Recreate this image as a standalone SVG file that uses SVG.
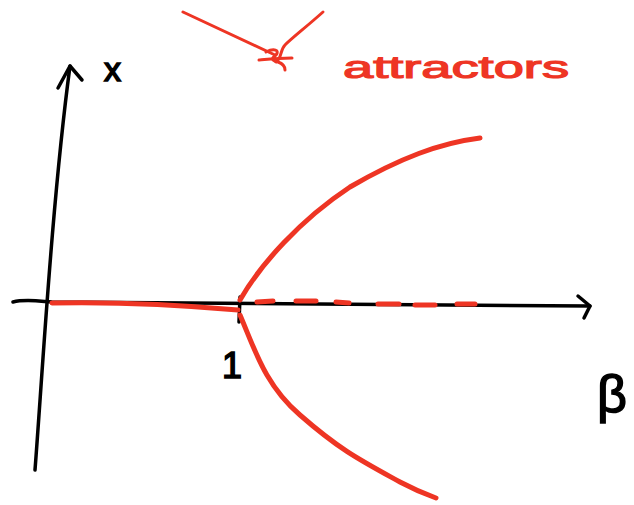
<svg xmlns="http://www.w3.org/2000/svg" width="634" height="505" viewBox="0 0 634 505">
<style>
.ax{fill:none;stroke:#000;stroke-width:3.5;stroke-linecap:round;stroke-linejoin:round}
.rd{fill:none;stroke:#ee3524;stroke-width:5;stroke-linecap:round;stroke-linejoin:round}
.rt{fill:none;stroke:#ee3524;stroke-width:3;stroke-linecap:round;stroke-linejoin:round}
.lb{font-family:"Liberation Sans",sans-serif;fill:#000;stroke:#000;stroke-width:1.5}
</style>
<rect width="634" height="505" fill="#fff"/>
<g id="axes">
<path class="ax" d="M35,470 C42,380 52,200 70,66"/>
<path class="ax" d="M58,88 L70,66 L82,80"/>
<path class="ax" d="M13,302 C25,299 38,301 52,302 L590,306"/>
<path class="ax" d="M578,296 L590,306 L584,318"/>
<path class="ax" d="M240,297 L239,322"/>
</g>
<g id="branches">
<path class="rd" d="M52,303 C100,302 170,304 238,310"/>
<path class="rd" d="M240,300 C260,265 300,220 350,187 C400,158 440,143 480,138"/>
<path class="rd" d="M240,315 C255,350 265,385 300,415 C340,450 360,460 400,482 C415,490 425,494 436,498"/>
<path class="rd" d="M257,302 L273,301 M296,301 L316,301 M336,302 L349,303 M378,304 L399,304 M415,305 L435,305 M457,304 L475,304" stroke-width="6"/>
</g>
<g id="annotation">
<path class="rt" d="M183,12 L275,55"/>
<path class="rt" d="M323,12 C305,28 292,38 285,45 C280,50 282,58 276,62"/>
<path class="rt" d="M259,60 C270,59 280,58 292,58 M266,52 C274,48 280,50 276,55 C272,58 270,60 278,62 C284,64 285,67 285,70"/>
<text x="343" y="78" font-family="'Liberation Sans',sans-serif" font-size="32" fill="#ee3524" stroke="#ee3524" stroke-width="1.2" textLength="226" lengthAdjust="spacingAndGlyphs">attractors</text>
</g>
<g id="labels">
<text class="lb" x="104" y="81" font-size="34">x</text>
<text class="lb" x="222" y="378" font-size="36">1</text>
<text class="lb" x="597" y="412" font-size="52">β</text>
</g>
</svg>
